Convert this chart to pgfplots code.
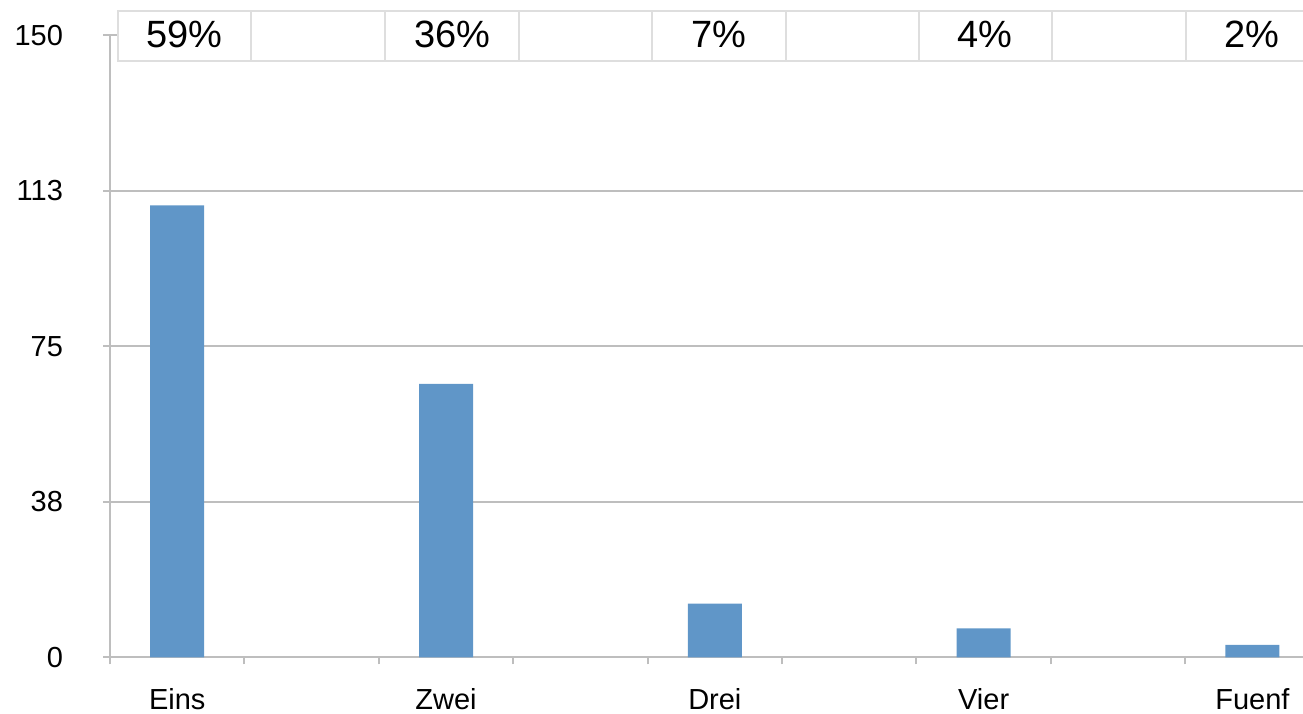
\documentclass[border=0pt]{standalone}
\usepackage{fontspec}
\setmainfont{Liberation Sans}
\usepackage{pgfplots}
\pgfplotsset{compat=1.18}
\definecolor{barblue}{RGB}{96,150,200}
\definecolor{axisgray}{RGB}{190,190,190}
\definecolor{cellgray}{RGB}{222,222,222}
\begin{document}
\begin{tikzpicture}
\begin{axis}[
  scale only axis, width=596.5pt, height=311pt,
  xmin=0, xmax=8.876, ymin=0, ymax=150,
  axis x line*=bottom, axis y line*=left,
  axis line style={draw=axisgray, line width=1pt, -},
  tick align=outside, tick pos=left,
  xtick={0.5,2.5,4.5,6.5,8.5},
  xticklabels={Eins,Zwei,Drei,Vier,Fuenf},
  minor xtick={0,1,...,8},
  major x tick style={draw=none},
  minor x tick style={draw=axisgray, line width=1pt},
  major tick length=3.5pt, minor tick length=3.5pt,
  ytick={0,37.5,75,112.5,150},
  yticklabels={0,38,75,113,150},
  ytick style={draw=axisgray, line width=1pt},
  ymajorgrids, grid style={draw=axisgray, line width=1pt},
  tick label style={font=\fontsize{14.5}{16}\selectfont},
  xticklabel style={yshift=-8.5pt},
  yticklabel style={anchor=east, xshift=-16.5pt},
  /pgf/number format/assume math mode=true,
  clip=false,
]
\addplot[ybar, bar width=0.402, bar shift=0pt, fill=barblue, draw=none]
  coordinates {(0.5,109) (2.5,66) (4.5,13) (6.5,7) (8.5,3)};

% percentage row above the plot
\draw[cellgray, line width=0.6pt, fill=white] (axis cs:0.0595,143.84) rectangle (axis cs:9.3,155.9);
\draw[cellgray, line width=0.6pt] (axis cs:1.049,143.84) -- (axis cs:1.049,155.9);
\draw[cellgray, line width=0.6pt] (axis cs:2.046,143.84) -- (axis cs:2.046,155.9);
\draw[cellgray, line width=0.6pt] (axis cs:3.043,143.84) -- (axis cs:3.043,155.9);
\draw[cellgray, line width=0.6pt] (axis cs:4.033,143.84) -- (axis cs:4.033,155.9);
\draw[cellgray, line width=0.6pt] (axis cs:5.030,143.84) -- (axis cs:5.030,155.9);
\draw[cellgray, line width=0.6pt] (axis cs:6.019,143.84) -- (axis cs:6.019,155.9);
\draw[cellgray, line width=0.6pt] (axis cs:7.009,143.84) -- (axis cs:7.009,155.9);
\draw[cellgray, line width=0.6pt] (axis cs:8.006,143.84) -- (axis cs:8.006,155.9);
\node[font=\fontsize{19}{22}\selectfont] at (axis cs:0.554,150.2) {59\%};
\node[font=\fontsize{19}{22}\selectfont] at (axis cs:2.545,150.2) {36\%};
\node[font=\fontsize{19}{22}\selectfont] at (axis cs:4.530,150.2) {7\%};
\node[font=\fontsize{19}{22}\selectfont] at (axis cs:6.510,150.2) {4\%};
\node[font=\fontsize{19}{22}\selectfont] at (axis cs:8.495,150.2) {2\%};

\coordinate (bbl) at (axis cs:-0.8185,-13.62);
\coordinate (btr) at (axis cs:8.876,158.55);
\end{axis}
\pgfresetboundingbox
\path[use as bounding box] (bbl) rectangle (btr);
\end{tikzpicture}
\end{document}
